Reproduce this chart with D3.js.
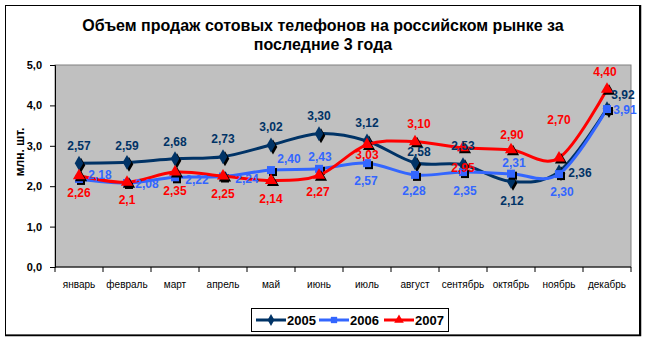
<!DOCTYPE html>
<html>
<head>
<meta charset="utf-8">
<script src="https://cdn.jsdelivr.net/npm/d3@7"></script>
<style>
  html, body { margin: 0; padding: 0; background: #fff; }
  svg { display: block; }
</style>
</head>
<body>
<script>
// Monthly mobile phone sales in Russia, millions of units
const months = ["январь", "февраль", "март", "апрель", "май", "июнь", "июль", "август", "сентябрь", "октябрь", "ноябрь", "декабрь"];
const years = ["2005", "2006", "2007"];
const sales2005 = [2.57, 2.59, 2.68, 2.73, 3.02, 3.30, 3.12, 2.58, 2.53, 2.12, 2.36, 3.92];
const sales2006 = [2.18, 2.08, 2.22, 2.24, 2.40, 2.43, 2.57, 2.28, 2.35, 2.31, 2.30, 3.91];
const sales2007 = [2.26, 2.1, 2.35, 2.25, 2.14, 2.27, 3.03, 3.10, 2.95, 2.90, 2.70, 4.40];
const yTicks = [0, 1, 2, 3, 4, 5];
const titleLines = ["Объем продаж сотовых телефонов на российском рынке за", "последние 3 года"];
const yTitle = "млн. шт.";

// Label placement for each point: offset of the label centre from the point
const labelOffsets = {
  "2005": [[0,-17],[0,-17],[0,-17],[0,-18],[0,-18],[0,-18],[0,-18],[4,-11],[0,-19],[1,19],[21,1],[16,-14]],
  "2006": [[21,-4],[20,1],[22,2],[24,2],[18,-11],[1,-12],[-1,18],[-1,16],[2,19],[3,-11],[3,18],[18,1]],
  "2007": [[0,17],[0,18],[0,19],[0,18],[0,18],[-1,17],[0,10],[4,-18],[0,20],[1,-15],[0,-38],[-2,-17]]
};

const W = 647, H = 341;
const plot = { left: 55, right: 631, top: 65, bottom: 267 };
const FONT = "Liberation Sans, Arial, sans-serif";

const svg = d3.select("body").append("svg").attr("width", W).attr("height", H);

// Outer frame with a heavier right/bottom edge
svg.append("rect").attr("x", 5.5).attr("y", 5.5).attr("width", 634).attr("height", 329.5)
  .attr("fill", "#fff").attr("stroke", "#000").attr("stroke-width", 1);
svg.append("path").attr("d", "M640.5,5 V335.5 H5").attr("fill", "none").attr("stroke", "#000").attr("stroke-width", 1.5);

// Title
const title = svg.append("text").attr("text-anchor", "middle")
  .attr("font-family", FONT).attr("font-weight", "bold").attr("font-size", 16).attr("fill", "#000");
titleLines.forEach((t, i) => title.append("tspan").attr("x", 323).attr("y", 31 + i * 19).text(t));

const x = d3.scaleBand().domain(months).range([plot.left, plot.right]).padding(0);
const y = d3.scaleLinear().domain([0, 5]).range([plot.bottom, plot.top]);
const cx = m => x(m) + x.bandwidth() / 2;
const comma = s => s.replace(".", ",");

// Plot background
svg.append("rect").attr("x", plot.left).attr("y", plot.top)
  .attr("width", plot.right - plot.left).attr("height", plot.bottom - plot.top)
  .attr("fill", "#c0c0c0").attr("stroke", "#808080").attr("stroke-width", 1);

// Y axis
const yAxis = d3.axisLeft(y).tickValues(yTicks).tickSize(5).tickPadding(8)
  .tickFormat(d => comma(d3.format(".1f")(d)));
const gy = svg.append("g").attr("transform", `translate(${plot.left},0)`).call(yAxis);
gy.select(".domain").attr("stroke", "#000");
gy.selectAll("text").attr("font-family", FONT)
  .attr("font-weight", "bold").attr("font-size", 11).attr("fill", "#000");

// X axis: ticks on category boundaries
const gx = svg.append("g").attr("transform", `translate(0,${plot.bottom})`);
gx.append("line").attr("x1", plot.left).attr("x2", plot.right).attr("stroke", "#000");
const boundaries = months.map(m => x(m)).concat([plot.right]);
gx.selectAll("line.tick").data(boundaries).join("line").attr("class", "tick")
  .attr("x1", d => d).attr("x2", d => d).attr("y1", 0).attr("y2", 5).attr("stroke", "#000");
gx.selectAll("text").data(months).join("text")
  .attr("x", d => cx(d)).attr("y", 21).attr("text-anchor", "middle")
  .attr("font-family", FONT).attr("font-size", 10).attr("fill", "#000")
  .text(d => d);

// Y axis title
svg.append("text").attr("transform", "translate(24,152) rotate(-90)").attr("text-anchor", "middle")
  .attr("font-family", FONT).attr("font-weight", "bold").attr("font-size", 12)
  .text(yTitle);

const series = [
  { name: "2005", values: sales2005, color: "#003366", symbol: d3.symbolDiamond },
  { name: "2006", values: sales2006, color: "#3366ff", symbol: d3.symbolSquare },
  { name: "2007", values: sales2007, color: "#ff0000", symbol: d3.symbolTriangle }
];

const line = d3.line().x((d, i) => cx(months[i])).y(d => y(d)).curve(d3.curveCatmullRom.alpha(0));

series.forEach(s => {
  const g = svg.append("g");
  g.append("path").attr("d", line(s.values)).attr("fill", "none")
    .attr("stroke", s.color).attr("stroke-width", 3);
  const sym = d3.symbol().type(s.symbol).size(64);
  // marker shadow
  g.selectAll("path.sh").data(s.values).join("path").attr("class", "sh")
    .attr("transform", (d, i) => `translate(${cx(months[i]) + 2},${y(d) + 2})`)
    .attr("d", sym).attr("fill", "#000");
  g.selectAll("path.mk").data(s.values).join("path").attr("class", "mk")
    .attr("transform", (d, i) => `translate(${cx(months[i])},${y(d)})`)
    .attr("d", sym).attr("fill", s.color);
});

// Value labels (whole tenths such as 2,1 in 2007 are shown with one decimal)
const fmtValue = (name, d, i) => comma(name === "2007" && i === 1 ? d3.format(".1f")(d) : d3.format(".2f")(d));
series.forEach(s => {
  svg.append("g").selectAll("text").data(s.values).join("text")
    .attr("x", (d, i) => cx(months[i]) + labelOffsets[s.name][i][0])
    .attr("y", (d, i) => y(d) + labelOffsets[s.name][i][1])
    .attr("dy", "0.35em").attr("text-anchor", "middle")
    .attr("font-family", FONT).attr("font-weight", "bold").attr("font-size", 12)
    .attr("fill", s.color)
    .text((d, i) => fmtValue(s.name, d, i));
});

// Legend
const lg = svg.append("g");
lg.append("rect").attr("x", 251.5).attr("y", 308.5).attr("width", 197).attr("height", 23)
  .attr("fill", "#fff").attr("stroke", "#000").attr("stroke-width", 1);
const legendX = [256, 319, 384];
series.forEach((s, k) => {
  const x0 = legendX[k];
  lg.append("line").attr("x1", x0).attr("x2", x0 + 30).attr("y1", 320).attr("y2", 320)
    .attr("stroke", s.color).attr("stroke-width", 3);
  lg.append("path").attr("transform", `translate(${x0 + 15},320)`)
    .attr("d", d3.symbol().type(s.symbol).size(40)).attr("fill", s.color);
  lg.append("text").attr("x", x0 + 31).attr("y", 320).attr("dy", "0.36em")
    .attr("font-family", FONT).attr("font-weight", "bold").attr("font-size", 13)
    .text(s.name);
});
</script>
</body>
</html>
